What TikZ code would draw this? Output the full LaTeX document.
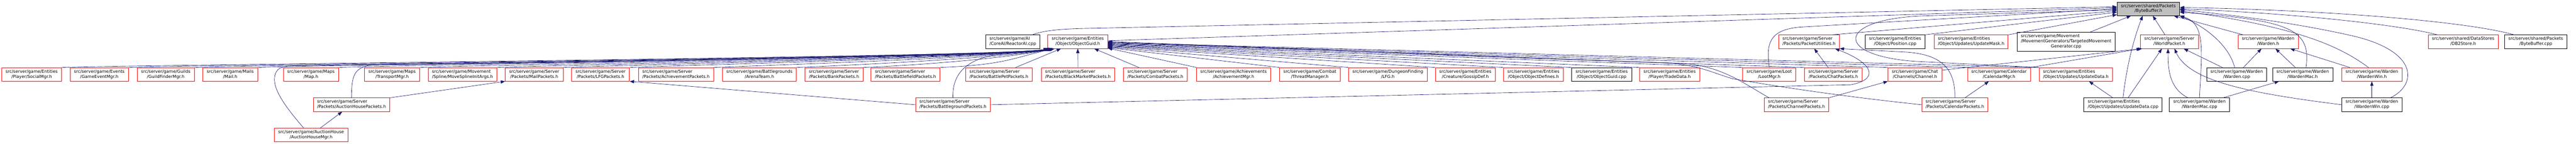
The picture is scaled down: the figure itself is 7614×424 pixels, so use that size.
\documentclass[tikz,border=0pt]{standalone}
\usepackage{fontspec}
\usetikzlibrary{arrows.meta}
\newfontfamily\dotfont{DejaVu Sans}
\definecolor{midnight}{HTML}{191970}
\definecolor{grey75}{HTML}{BFBFBF}
\newcommand{\twoline}[2]{\begin{tabular}{@{}l@{}}#1\\\multicolumn{1}{@{}c@{}}{#2}\end{tabular}}
\tikzset{
  redbox/.style={draw=red, fill=white, line width=1pt, inner xsep=11.5pt, inner ysep=5pt,
    font=\dotfont\fontsize{12.6}{15}\selectfont},
  blackbox/.style={redbox, draw=black},
  rootbox/.style={redbox, draw=black, fill=grey75},
  incl/.style={draw=midnight, line width=1pt, -{Triangle[length=13pt,width=9.5pt]}}
}
\begin{document}
\begin{tikzpicture}[x=1pt, y=-1pt]
      \useasboundingbox (0,0) rectangle (7614,424);
      % Root:
      \node[rootbox] (bytebuf) at (6350,26) {\twoline{src/server/shared/Packets}{/ByteBuffer.h}};
      % Row 1:
      \node[blackbox] (reactor) at (2993.5,123) {\twoline{src/server/game/AI}{/CoreAI/ReactorAI.cpp}};
      \node[redbox] (objguid) at (3185.5,123) {\twoline{src/server/game/Entities}{/Object/ObjectGuid.h}};
      \node[redbox] (pktutil) at (5347,123) {\twoline{src/server/game/Server}{/Packets/PacketUtilities.h}};
      \node[blackbox] (position) at (5601.5,123) {\twoline{src/server/game/Entities}{/Object/Position.cpp}};
      \node[redbox] (updmask) at (5826,123) {\twoline{src/server/game/Entities}{/Object/Updates/UpdateMask.h}};
      \node[blackbox] (targeted) at (6107,123) {\begin{tabular}{@{}l@{}}src/server/game/Movement\\/MovementGenerators/TargetedMovement\\\multicolumn{1}{@{}c@{}}{Generator.cpp}\end{tabular}};
      \node[redbox] (worldpkt) at (6412,123) {\twoline{src/server/game/Server}{/WorldPacket.h}};
      \node[redbox] (wardenh) at (6704,123) {\twoline{src/server/game/Warden}{/Warden.h}};
      \node[redbox] (db2store) at (7280.5,123) {\twoline{src/server/shared/DataStores}{/DB2Store.h}};
      \node[blackbox] (bytebufcpp) at (7495,123) {\twoline{src/server/shared/Packets}{/ByteBuffer.cpp}};
      % Row 2:
      \node[redbox] (socialmgr) at (93.5,219.5) {\twoline{src/server/game/Entities}{/Player/SocialMgr.h}};
      \node[redbox] (gameevent) at (293.5,219.5) {\twoline{src/server/game/Events}{/GameEventMgr.h}};
      \node[redbox] (guildfinder) at (490,219.5) {\twoline{src/server/game/Guilds}{/GuildFinderMgr.h}};
      \node[redbox] (mail) at (680.5,219.5) {\twoline{src/server/game/Mails}{/Mail.h}};
      \node[redbox] (map) at (919,219.5) {\twoline{src/server/game/Maps}{/Map.h}};
      \node[redbox] (transport) at (1159,219.5) {\twoline{src/server/game/Maps}{/TransportMgr.h}};
      \node[redbox] (movespline) at (1367,219.5) {\twoline{src/server/game/Movement}{/Spline/MoveSplineInitArgs.h}};
      \node[redbox] (mailpkt) at (1579,219.5) {\twoline{src/server/game/Server}{/Packets/MailPackets.h}};
      \node[redbox] (lfgpkt) at (1775,219.5) {\twoline{src/server/game/Server}{/Packets/LFGPackets.h}};
      \node[redbox] (achievpkt) at (1998,219.5) {\twoline{src/server/game/Server}{/Packets/AchievementPackets.h}};
      \node[redbox] (arenateam) at (2244.5,219.5) {\twoline{src/server/game/Battlegrounds}{/ArenaTeam.h}};
      \node[redbox] (bankpkt) at (2465,219.5) {\twoline{src/server/game/Server}{/Packets/BankPackets.h}};
      \node[redbox] (bfieldpkt) at (2676.5,219.5) {\twoline{src/server/game/Server}{/Packets/BattlefieldPackets.h}};
      \node[redbox] (bpetpkt) at (2952.5,219.5) {\twoline{src/server/game/Server}{/Packets/BattlePetPackets.h}};
      \node[redbox] (bmarketpkt) at (3186,219.5) {\twoline{src/server/game/Server}{/Packets/BlackMarketPackets.h}};
      \node[redbox] (combatpkt) at (3415,219.5) {\twoline{src/server/game/Server}{/Packets/CombatPackets.h}};
      \node[redbox] (achievmgr) at (3646,219.5) {\twoline{src/server/game/Achievements}{/AchievementMgr.h}};
      \node[redbox] (threat) at (3871.5,219.5) {\twoline{src/server/game/Combat}{/ThreatManager.h}};
      \node[redbox] (lfg) at (4102,219.5) {\twoline{src/server/game/DungeonFinding}{/LFG.h}};
      \node[redbox] (gossip) at (4331,219.5) {\twoline{src/server/game/Entities}{/Creature/GossipDef.h}};
      \node[redbox] (objdefines) at (4532.5,219.5) {\twoline{src/server/game/Entities}{/Object/ObjectDefines.h}};
      \node[blackbox] (objguidcpp) at (4734,219.5) {\twoline{src/server/game/Entities}{/Object/ObjectGuid.cpp}};
      \node[redbox] (tradedata) at (4935,219.5) {\twoline{src/server/game/Entities}{/Player/TradeData.h}};
      \node[redbox] (lootmgr) at (5229.5,219.5) {\twoline{src/server/game/Loot}{/LootMgr.h}};
      \node[redbox] (chatpkt) at (5419,219.5) {\twoline{src/server/game/Server}{/Packets/ChatPackets.h}};
      \node[redbox] (channel) at (5660,219.5) {\twoline{src/server/game/Chat}{/Channels/Channel.h}};
      \node[redbox] (calendarmgr) at (5908.5,219.5) {\twoline{src/server/game/Calendar}{/CalendarMgr.h}};
      \node[redbox] (updatedata) at (6135.5,219.5) {\twoline{src/server/game/Entities}{/Object/Updates/UpdateData.h}};
      \node[blackbox] (wardencpp) at (6611,219.5) {\twoline{src/server/game/Warden}{/Warden.cpp}};
      \node[blackbox] (wardenmach) at (6806,219.5) {\twoline{src/server/game/Warden}{/WardenMac.h}};
      \node[redbox] (wardenwinh) at (7010.5,219.5) {\twoline{src/server/game/Warden}{/WardenWin.h}};
      % Row 3:
      \node[redbox] (auctionpkt) at (1039,309) {\twoline{src/server/game/Server}{/Packets/AuctionHousePackets.h}};
      \node[redbox] (bgroundpkt) at (2816.5,309) {\twoline{src/server/game/Server}{/Packets/BattlegroundPackets.h}};
      \node[redbox] (channelpkt) at (5310,309) {\twoline{src/server/game/Server}{/Packets/ChannelPackets.h}};
      \node[redbox] (calendarpkt) at (5778,309) {\twoline{src/server/game/Server}{/Packets/CalendarPackets.h}};
      \node[blackbox] (updatedatacpp) at (6275,309) {\twoline{src/server/game/Entities}{/Object/Updates/UpdateData.cpp}};
      \node[blackbox] (wardenmaccpp) at (6501,309) {\twoline{src/server/game/Warden}{/WardenMac.cpp}};
      \node[blackbox] (wardenwincpp) at (7010.5,309) {\twoline{src/server/game/Warden}{/WardenWin.cpp}};
      % Row 4:
      \node[redbox] (auctionmgr) at (919.5,398) {\twoline{src/server/game/AuctionHouse}{/AuctionHouseMgr.h}};

      % Into ObjectGuid.h:
      \foreach \f [count=\i] in {socialmgr,gameevent,guildfinder,mail,map,transport,movespline,mailpkt,lfgpkt,achievpkt,arenateam,bankpkt,bfieldpkt}
        \draw[incl] (\f.north east) .. controls +(200,-8) and +(-120,25) .. ([xshift=\i*1.6pt]objguid.south west);
      \draw[incl] (bpetpkt) -- (objguid);
      \draw[incl] (bmarketpkt) -- (objguid);
      \draw[incl] (combatpkt) -- (objguid);
      \foreach \f [count=\i] in {achievmgr,threat,lfg,gossip,objdefines,objguidcpp,tradedata,lootmgr,chatpkt,channel,calendarmgr,updatedata}
        \draw[incl] (\f.north west) -- ([yshift=\i*1.5pt]objguid.south east);
      \draw[incl] ([xshift=-22pt]auctionmgr.north) .. controls (830,300) and (800,250) .. (815,215)
        .. controls (822,200) and (835,195) .. (870,194) .. controls (1200,188) and (2980,168) .. ([xshift=1pt]objguid.south west);
      \draw[incl] (auctionpkt.north) .. controls (1039,225) and (1045,198) .. (1100,192)
        .. controls (1400,188) and (2980,168) .. ([xshift=3pt]objguid.south west);
      \draw[incl] (bgroundpkt.north) .. controls (2812,140) and (3000,160) .. ([xshift=15pt]objguid.south west);
      \draw[incl] ([xshift=-81pt]channelpkt.north) .. controls (5160,250) and (5090,195) .. (4980,188) -- ([yshift=19.5pt]objguid.south east);
      \draw[incl] (calendarpkt.west) .. controls (5450,285) and (5250,255) .. (5120,232)
        .. controls (5060,214) and (5020,192) .. (4930,186) -- ([yshift=21pt]objguid.south east);

      % Into ByteBuffer.h:
      \draw[incl] ([xshift=58pt]reactor.north) .. controls (3080,92) and (3120,86) .. (3200,84) -- ([yshift=6pt]bytebuf.west);
      \draw[incl] (objguid) -- ([yshift=3pt]bytebuf.west);
      \draw[incl] (lootmgr.north) .. controls (5220,130) and (5228,88) .. (5320,80) -- (bytebuf.west);
      \draw[incl] (updatedata.north west) -- (5680,182) .. controls (5420,170) and (5420,58) .. (5680,47) -- ([yshift=-3pt]bytebuf.west);
      \draw[incl] ([xshift=70pt]pktutil.north) -- ([yshift=-6pt]bytebuf.west);
      \draw[incl] (position.north east) -- ([yshift=-10pt]bytebuf.west);
      \draw[incl] (updmask) -- (bytebuf);
      \draw[incl] (targeted) -- (bytebuf);
      \draw[incl] (worldpkt) -- (bytebuf);
      \draw[incl] (wardenh) -- (bytebuf);
      \draw[incl] (updatedatacpp.north) .. controls (6285,200) and (6305,120) .. ([xshift=-17pt]bytebuf.south);
      \draw[incl] ([xshift=-6pt]wardencpp.north) .. controls (6590,140) and (6530,85) .. (bytebuf.south east);
      \draw[incl] (wardenmaccpp.north) .. controls (6508,150) and (6520,70) .. (bytebuf.south east);
      \draw[incl] ([xshift=10pt]wardenmach.north) .. controls (6830,90) and (6780,60) .. ([yshift=-10pt]bytebuf.east);
      \draw[incl] ([xshift=-10pt]wardenwinh.north) .. controls (6920,140) and (6800,80) .. ([yshift=-6pt]bytebuf.east);
      \draw[incl] ([xshift=55pt]wardenwincpp.north) .. controls (7145,250) and (7150,150) .. (6950,105)
        .. controls (6750,60) and (6550,40) .. ([yshift=-2pt]bytebuf.east);
      \draw[incl] ([xshift=-77pt]db2store.north) .. controls (7100,75) and (6800,40) .. (bytebuf.east);
      \draw[incl] ([xshift=-65pt]bytebufcpp.north) .. controls (7300,65) and (6900,30) .. ([yshift=4pt]bytebuf.east);

      % Into PacketUtilities.h:
      \draw[incl] (chatpkt) -- (pktutil);
      \draw[incl] (bgroundpkt.east) -- (5470,250) .. controls (5550,236) and (5545,190) .. ([xshift=77pt]pktutil.south);
      \draw[incl] (calendarpkt.north) .. controls (5780,195) and (5730,157) .. (5620,153) -- (pktutil.south east);

      % Into WorldPacket.h:
      \draw[incl] ([yshift=-8pt]channel.north east) -- ([xshift=6pt]worldpkt.south west);
      \draw[incl] (calendarmgr.north east) -- ([xshift=2pt]worldpkt.south west);
      \draw[incl] ([xshift=15pt]updatedatacpp.north) -- ([xshift=-22pt]worldpkt.south);
      \draw[incl] (wardencpp) -- (worldpkt);
      \draw[incl] ([xshift=-34pt]wardenmaccpp.north) .. controls (6410,260) and (6408,200) .. ([xshift=-4pt]worldpkt.south);
      \draw[incl] (wardenwincpp.west) .. controls (6650,275) and (6470,240) .. ([xshift=15pt]worldpkt.south);

      % Into Warden.h:
      \draw[incl] (wardencpp) -- (wardenh);
      \draw[incl] (wardenmach) -- (wardenh);
      \draw[incl] (wardenwinh) -- (wardenh);

      % The rest:
      \draw[incl] (wardenmaccpp) -- (wardenmach);
      \draw[incl] (wardenwincpp) -- (wardenwinh);
      \draw[incl] ([xshift=-30pt]updatedatacpp.north) -- ([xshift=39pt]updatedata.south);
      \draw[incl] (calendarpkt) -- (calendarmgr);
      \draw[incl] (channelpkt.north east) -- (channel.south west);
      \draw[incl] (auctionpkt.north east) -- (mailpkt.south west);
      \draw[incl] (bgroundpkt.west) -- (lfgpkt.south east);
      \draw[incl] (auctionmgr) -- (auctionpkt);
\end{tikzpicture}
\end{document}
